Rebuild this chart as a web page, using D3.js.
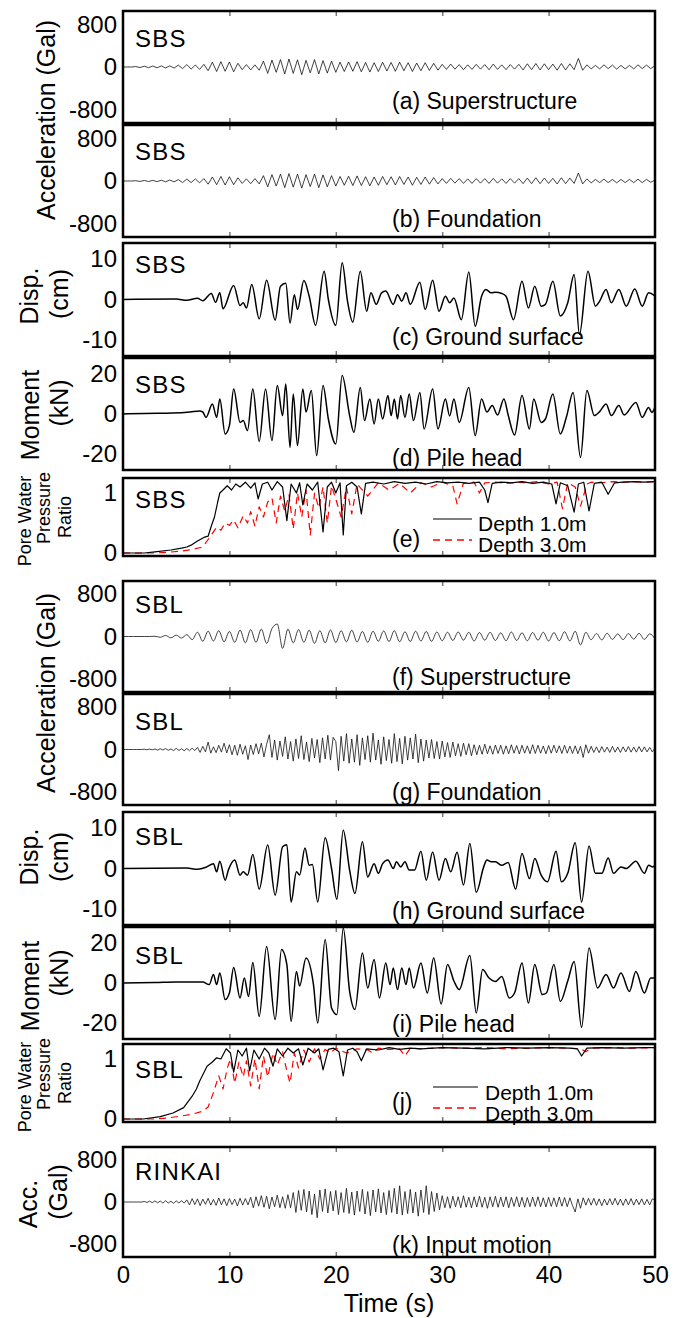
<!DOCTYPE html>
<html>
<head>
<meta charset="utf-8">
<script src="https://cdn.jsdelivr.net/npm/d3@7"></script>
<style>
  body { margin: 0; background: #fff; }
  svg { display: block; font-family: "Liberation Sans", Arial, sans-serif; }
</style>
</head>
<body>
<div id="chart"></div>
<script>
// ---- data ----
const timeTicks = [0, 10, 20, 30, 40, 50];
const innerTicks = [10, 20, 30, 40];
const accTicks = [-800, 0, 800];
const dispTicks = [-10, 0, 10];
const momTicks = [-20, 0, 20];
const poreTicks = [0, 1];

// SBS superstructure acceleration (Gal), sampled every 0.4 s
const sbsSuperAcc = [0,0,0,8,-10,15,-12,18,-15,20,-18,22,-20,35,-30,45,-40,38,-45,50,
  -70,90,-85,100,-80,95,-90,70,-50,45,-55,40,-60,110,-120,130,-100,140,-130,150,-120,135,-145,125,-110,140,-130,120,-115,110,
  -100,90,-85,95,-80,100,-90,85,-95,80,-85,90,-75,85,-80,90,-70,80,-85,75,-70,80,-65,70,-60,
  50,-45,55,-40,45,-50,40,-45,50,-40,45,-50,55,-45,40,-50,45,-40,50,
  -55,60,-50,65,-55,60,-50,55,-60,65,-55,60,-50,160,
  -60,40,-35,30,-35,40,-30,35,-40,30,-35,30,-35,40,-30,35,-30,25];
// SBS foundation acceleration (Gal), every 0.4 s
const sbsFoundAcc = [0,0,0,5,-8,10,-10,12,-12,15,-15,18,-15,25,-28,35,-30,40,-35,45,
  -60,75,-70,85,-75,80,-70,60,-45,40,-50,45,-55,100,-110,120,-95,130,-125,140,-115,130,-135,120,-105,130,-125,115,-110,100,
  -95,85,-80,90,-85,95,-85,80,-90,75,-80,85,-70,80,-75,85,-65,75,-80,70,-65,75,-60,65,-55,
  45,-45,50,-40,45,-45,40,-45,45,-40,45,-45,50,-40,40,-45,45,-40,45,
  -50,55,-50,60,-50,55,-45,50,-55,60,-50,55,-45,150,
  -55,40,-35,30,-30,35,-30,30,-35,30,-30,30,-30,35,-30,30,-25,20];

// SBS ground surface displacement (cm)
const sbsDispT = [0,5,6,7,7.5,8.3,8.7,9.1,9.4,10.4,11.0,11.3,11.6,12.1,12.8,13.5,14.3,14.8,15.3,15.7,
  16.1,16.4,17.0,17.5,18.1,18.9,19.3,20.0,20.6,21.1,21.6,22.3,22.9,23.3,23.8,24.3,24.7,25.4,25.8,26.2,
  26.6,27.0,27.9,28.4,29.1,29.7,30.3,30.7,31.1,31.8,32.5,33.1,33.7,34.1,34.6,35.0,35.6,36.0,36.7,37.5,
  38.1,38.7,39.3,39.7,40.4,41.1,41.8,42.4,42.9,43.7,44.4,44.8,45.4,45.9,46.6,47.3,48.1,48.8,49.4,50];
const sbsDispV = [0,0.1,-0.2,0.3,-0.3,1.5,-0.7,1.65,-2.3,3.5,-1.5,-0.8,-2.1,3.7,-4.8,4.8,-5.1,3.3,4.0,-5.8,
  1.2,-2.5,4.7,0.8,-6.4,7.0,0,-6.4,9.1,-0.4,-5.6,7.0,-2.9,1.65,-1.2,1.65,2.1,-1.2,1.2,-0.4,
  1.65,-1.2,4.3,-2.5,4.8,-2.9,0.8,-0.8,0.4,-5.0,6.8,-6.6,0.8,2.5,1.65,1.8,1.5,0.8,-5.0,4.5,
  -2.1,3.3,-1.65,-1.2,4.5,-4.1,-0.8,6.2,-8.7,7.0,-1.65,-0.4,2.5,-0.8,2.5,-1.65,2.6,-1.65,1.65,0.8];

// SBS pile head moment (kN)
const sbsMomT = [0,2,4.7,6.3,7.2,7.5,7.8,8.4,8.8,9.1,9.6,10.0,10.4,11.0,11.3,11.7,12.2,12.8,13.4,14.0,
  14.5,15.0,15.3,15.7,16.0,16.4,16.9,17.2,17.7,18.2,18.8,19.3,20.0,20.6,21.3,21.7,22.3,22.7,23.2,23.6,
  24.0,24.4,24.9,25.2,25.5,25.8,26.1,26.5,26.9,27.3,27.9,28.3,29.1,29.6,30.3,30.7,31.1,31.6,32.5,33.1,
  33.7,34.2,34.7,35.2,35.8,36.2,36.8,37.5,38.2,38.6,39.3,39.7,40.4,41.1,41.7,42.3,43.0,43.6,44.3,44.8,
  45.4,45.9,46.6,47.1,48.2,48.8,49.4,49.7,50];
const sbsMomV = [0,0.3,0.5,1.0,1.5,1.0,-1.7,5,-1.7,7.5,-10,-5.8,12.5,-4.2,-3.3,-8.3,12.5,-13.7,12.5,-13.3,
  14.2,-0.8,15,-16.7,10,-15.8,12.5,1,11.7,-20.8,14.2,-2.5,-15,19.2,-0.8,-9.2,13.3,-3.3,7.5,-5,
  7.5,-2.5,9.2,-0.8,7.5,-2.5,9.2,-1.7,10,-3.3,10.8,-7.5,12.5,-7.5,7.5,-1,7.5,-4.2,13.3,-10.8,
  7.5,1,4.2,-0.5,7.5,-0.5,-10.5,9.2,-7.5,7.5,-4.2,-2.5,10,-10,-1,10.8,-21.7,11.7,-0.8,1.2,
  5,-0.8,4.2,-0.5,5.8,-1.7,3.3,0.8,3.3];

// SBS pore water pressure ratio, depth 1.0 m and 3.0 m
const sbsPore1T = [0,2,3,4.5,5.5,6,6.5,7,7.6,8.0,8.3,8.6,8.9,9.1,9.4,9.8,10.2,10.6,11,11.5,
  12,12.4,12.7,13.1,13.6,14,14.5,15,15.4,15.8,16.3,16.6,16.9,17.3,17.8,18.3,18.8,19.2,19.6,20,
  20.4,20.7,21.0,21.5,22.0,22.4,22.8,23.5,24.5,25.5,26.5,27.5,28.5,29.5,30.5,31.5,32.5,33.5,34.0,34.3,
  34.7,35.5,36.5,37.5,38.5,39.5,40.3,40.7,41.1,41.8,42.4,42.8,43.3,43.8,44.3,45.0,45.6,46.2,47,48,49,50];
const sbsPore1V = [0,0,0.02,0.05,0.08,0.1,0.14,0.2,0.26,0.28,0.45,0.6,0.85,1.0,1.05,1.12,1.05,1.15,1.1,1.18,
  1.08,1.17,0.9,1.15,1.18,1.05,1.19,1.1,0.54,1.15,1.0,1.17,0.8,1.15,1.05,1.18,0.35,1.1,1.18,1.0,
  1.17,0.3,1.12,1.18,1.1,0.65,1.16,1.18,1.15,1.19,1.16,1.18,1.15,1.19,1.17,1.18,1.16,1.18,1.05,0.84,
  1.16,1.18,1.17,1.19,1.16,1.18,1.15,0.82,1.17,1.12,0.68,1.15,1.18,0.7,1.16,1.18,0.98,1.17,1.18,1.19,1.18,1.19];
const sbsPore3T = [0,3,4,5.5,6.5,7.5,8.3,8.8,9.2,9.6,10,10.4,10.8,11.3,11.7,12,12.4,12.8,13.2,13.6,
  14,14.4,14.8,15.2,15.6,16,16.4,16.8,17.2,17.6,18,18.4,18.8,19.2,19.6,20,20.5,21,21.5,22,
  23,24,25,26,27,28,29,30,31,31.4,32,33,33.5,34,35,36,37,38,39,40,
  40.8,41.3,41.8,42.5,43,43.6,44,45,46,47,48,49,50];
const sbsPore3V = [0,0,0.01,0.03,0.06,0.1,0.3,0.43,0.38,0.5,0.46,0.55,0.42,0.62,0.5,0.69,0.45,0.77,0.6,0.85,
  0.92,0.5,0.95,0.7,0.97,0.4,1.0,0.6,1.05,0.3,1.0,0.75,1.1,0.5,1.12,0.9,0.6,1.1,0.65,1.15,
  0.95,1.17,1.05,1.16,1.0,1.17,1.1,1.18,1.12,0.82,1.16,1.18,1.0,1.17,1.18,1.16,1.18,1.17,1.19,1.15,
  1.18,0.74,1.17,1.1,0.78,1.15,1.18,1.17,1.19,1.18,1.19,1.18,1.19];

// SBL superstructure acceleration (Gal), every 0.5 s
const sblSuperAcc = [0,0,0,0,0,0,5,-15,20,-25,25,-30,35,
  -60,80,-90,100,-85,110,-100,95,-110,120,-120,130,-110,140,-130,150,236,-225,
  140,-120,130,-110,120,-130,110,-120,125,-115,
  110,-100,120,-105,95,-110,100,-90,105,-95,110,-100,90,-95,100,-85,95,-90,85,-80,
  80,-75,85,-70,80,-85,75,-70,80,-75,70,-80,85,-75,70,-80,75,-70,80,-85,75,-80,90,-85,
  100,-160,80,-60,55,-65,60,-55,50,-60,55,-50,60,-55,50,-45];
// SBL foundation acceleration (Gal), every 0.25 s
const sblFoundAcc = [0,0,0,0,0,0,0,0,5,-5,8,-6,
  10,-12,15,-10,18,-15,12,-20,22,-18,15,-25,20,-22,25,-20,
  40,-55,60,-45,140,-70,50,-60,80,-50,120,-65,
  90,-100,80,-110,100,-90,70,-190,85,-95,110,-80,
  120,-140,100,280,
  -150,180,-200,160,-130,240,-180,150,-220,200,-170,260,-190,140,-230,210,-160,190,-250,220,-180,270,-200,230,
  150,-400,250,-220,300,-260,200,-240,280,-300,220,-190,260,-240,310,-200,180,-280,240,-210,190,-260,300,-230,210,-270,250,-200,220,-180,290,-250,
  200,-220,180,-160,190,-170,150,-180,160,-140,130,-150,140,-120,110,-130,120,-100,110,-120,
  90,-100,80,-90,100,-80,70,-90,85,-75,80,-90,70,-80,90,-70,75,-85,80,-70,70,-80,90,-75,80,-70,65,-80,75,-70,80,-65,70,-75,80,-70,65,-75,70,-80,
  60,-150,90,-70,
  60,-55,50,-60,55,-50,45,-55,60,-50,45,-55,50,-45,55,-50,45,-50,55,-45,50,-45,40,-45,30];

// SBL ground surface displacement (cm)
const sblDispT = [0,6,7,7.8,8.5,8.8,9.1,9.6,9.9,10.5,11.0,11.3,11.7,12.2,12.8,13.6,14.3,15.0,15.4,15.8,
  16.3,16.6,17.1,17.5,17.8,18.3,19.0,19.6,20.1,20.7,21.3,21.8,22.5,23.0,23.6,24.0,24.4,24.9,25.4,25.7,
  26.1,26.5,26.9,27.4,28.0,28.5,29.1,29.7,30.3,30.8,31.4,32.0,32.6,33.2,33.9,34.2,34.6,35.0,35.6,36.2,
  36.9,37.5,38.2,38.7,39.3,39.9,40.7,41.2,41.8,42.5,43.1,43.8,44.4,45.0,45.6,46.1,46.8,47.3,48.2,49.0,
  49.4,49.8,50];
const sblDispV = [0,0.1,-0.2,0.3,1.2,-0.8,1.8,-2.9,-0.4,2.1,-1.65,-0.8,-1.65,3.5,-5.1,5.8,-6.6,5.4,5.9,-8.3,
  -0.8,-1.6,5.1,0.8,1.0,-8.3,7.6,0,-7.6,9.5,-0.4,-6.2,6.6,-2.1,1.2,-1.2,1.2,2.1,0,1.65,
  0.4,1.65,-0.4,-0.4,4.3,-2.9,4.1,-2.9,2.5,-0.8,4.0,-4.1,6.2,-5.9,0.4,2.1,1.65,1.65,0.8,1.5,
  -5.1,3.7,-2.5,2.5,-1.65,-3.3,4.3,-3.3,-1.2,6.4,-8.3,5.6,-1.2,-1.2,2.6,-1.2,0.4,0,1.8,-1.2,
  0.8,0.4,0.8];

// SBL pile head moment (kN)
const sblMomT = [0,3,5,7.5,8.1,8.5,8.8,9.1,9.6,10.0,10.4,11.0,11.4,11.8,12.2,12.8,13.5,14.3,14.9,15.4,
  15.8,16.3,16.6,17.2,17.9,18.3,19.0,19.6,20.1,20.7,21.3,21.8,22.5,23.0,23.6,24.1,24.7,25.1,25.4,25.8,
  26.2,26.6,26.9,27.3,28.0,28.6,29.2,29.9,30.5,31.1,31.6,32.6,33.2,33.8,34.4,35.0,35.6,36.3,36.8,37.5,
  38.1,38.7,39.4,39.8,40.5,41.1,41.8,42.4,43.1,43.8,44.6,45.4,46.1,46.8,47.6,48.2,49.0,49.6,50];
const sblMomV = [0,0.2,0.5,0.5,-0.8,4.2,-0.8,5,-8.3,-5,7.8,-7.5,2.5,-6.7,10.3,-16.7,18.3,-18.3,16.7,9.2,
  -19.2,5.8,-1.5,12.5,-0.8,-20,21.7,-12.5,-15.8,27.5,-4.2,-13.3,15,-2.5,11.7,-7.5,10,-0.8,7.5,-3.3,
  7.5,-0.8,7.5,-2.5,10,-5,12.5,-10.5,9.2,1,-3.3,13.8,-15,6.7,2.5,0.8,3.3,-7.5,-5,10,
  -10,9.2,-5.8,-5,9.2,-9.2,1,10.8,-22.2,17.5,-2.5,4.2,-2.5,5,-4.2,5.8,-5,2.5,2.5];

// SBL pore water pressure ratio
const sblPore1T = [0,1.9,3.5,4.7,5.7,6.5,6.9,7.2,7.9,8.4,8.8,9.2,9.7,10.1,10.4,10.8,11.2,11.6,11.9,12.3,
  12.8,13.3,13.7,14.1,14.5,15,15.5,16,16.5,16.9,17.4,18,18.4,18.8,19.3,19.8,20.3,20.7,21.1,21.6,
  22,22.4,22.9,24,25,26,27,28,30,32,34,36,38,40,42,42.7,43.1,43.6,45,47,49,50];
const sblPore1V = [0,0,0.04,0.1,0.19,0.38,0.5,0.63,0.88,0.95,1.02,1.0,1.17,1.1,0.78,1.15,1.05,1.18,0.8,1.15,
  1.0,1.18,1.1,0.88,1.17,1.05,1.18,1.1,1.17,0.9,1.18,1.1,1.17,0.82,1.16,1.18,1.12,0.72,1.15,1.18,
  1.12,0.97,1.17,1.15,1.19,1.16,1.18,1.17,1.19,1.18,1.17,1.19,1.18,1.19,1.18,1.17,1.05,1.18,1.19,1.18,1.19,1.19];
const sblPore3T = [0,3,4.3,5.5,6.5,7.5,8.0,8.5,9.0,9.4,9.8,10.1,10.5,10.9,11.3,11.6,12,12.4,12.8,13.2,
  13.6,14.1,14.5,15,15.4,15.7,16.1,16.5,17,17.5,18,18.5,19,19.5,20,21,22,23,23.5,24,
  25,26,26.5,27,28,30,32,34,36,38,40,42,43,43.5,44,46,48,50];
const sblPore3V = [0,0,0.02,0.05,0.08,0.13,0.2,0.44,0.72,0.5,0.85,1.0,0.6,0.95,0.7,0.97,0.55,1.0,0.5,1.05,
  0.7,1.1,0.9,1.12,0.8,0.6,1.1,0.85,1.15,0.95,1.17,1.0,1.16,1.1,1.18,1.1,1.17,1.15,1.1,1.18,
  1.16,1.17,1.05,1.18,1.17,1.19,1.18,1.19,1.17,1.18,1.19,1.18,1.17,1.12,1.18,1.19,1.18,1.19];

// RINKAI input acceleration (Gal), every 0.25 s
const rinkaiAcc = [0,0,0,0,0,0,0,0,
  10,-8,15,-12,20,-15,18,-22,25,-20,15,-25,22,-18,25,-20,
  40,-55,65,-50,60,-70,55,-45,70,-60,50,-65,75,-55,60,-70,65,-50,55,-75,70,-60,65,-55,
  90,-110,100,-80,120,-100,110,-130,95,-90,130,-110,100,-120,140,-110,
  180,-200,220,-160,240,-190,210,-240,150,-300,230,-180,250,-210,200,-170,
  220,-240,180,-200,260,-220,190,-250,210,-180,240,-230,200,-260,230,-190,250,-210,180,-240,
  220,-200,260,-230,310,-250,200,-220,240,-210,190,-270,230,-200,310,-240,200,-180,170,-150,
  120,-110,100,-120,110,-90,100,-110,120,-100,90,-110,100,-95,110,-100,90,-120,100,-90,
  110,-100,95,-90,100,-110,90,-85,100,-95,90,-100,85,-90,95,-85,100,-90,80,-95,
  90,-85,80,-90,95,-80,85,-90,80,-70,
  -190,60,-120,80,-60,70,
  -60,70,-65,60,-70,55,-60,65,-55,70,-60,55,-65,60,-55,65,-60,55,-50,60,-55,50,-55,60,40];

// ---- layout ----
const W = 678, H = 1318;
const left = 123, right = 655;
const font = '"Liberation Sans", Arial, sans-serif';

const svg = d3.select("#chart").append("svg")
    .attr("width", W)
    .attr("height", H);

const x = d3.scaleLinear().domain([0, 50]).range([left, right]);

// turn the arrays into [time, value] points
const stepPts = (vals, step) => vals.map((v, i) => [i * step, v]);
const zipPts = (ts, vs) => ts.map((t, i) => [t, vs[i]]);

const accLine = { w: 0.8, color: "#111", curve: d3.curveMonotoneX };
const spikyLine = { w: 0.8, color: "#111", curve: d3.curveLinear };
const waveLine = { w: 1.5, color: "#000", curve: d3.curveMonotoneX };
const poreBlack = { w: 1.2, color: "#000", curve: d3.curveLinear };
const poreRed = { w: 1.2, color: "#ff0000", curve: d3.curveLinear, dash: "7,5" };

const panels = [
  { top: 11, bottom: 123, dom: [-1050, 1050], ticks: accTicks, name: "SBS", nameDy: 36, cap: "(a) Superstructure", capDy: 14,
    series: [{ pts: stepPts(sbsSuperAcc, 0.4), ...spikyLine }] },
  { top: 125, bottom: 237, dom: [-1050, 1050], ticks: accTicks, name: "SBS", nameDy: 35, cap: "(b) Foundation", capDy: 10,
    series: [{ pts: stepPts(sbsFoundAcc, 0.4), ...spikyLine }] },
  { top: 243, bottom: 356, dom: [-14, 14], ticks: dispTicks, name: "SBS", nameDy: 30, cap: "(c) Ground surface", capDy: 11,
    series: [{ pts: zipPts(sbsDispT, sbsDispV), ...waveLine }] },
  { top: 358, bottom: 470, dom: [-28, 28], ticks: momTicks, name: "SBS", nameDy: 35, cap: "(d) Pile head", capDy: 4,
    series: [{ pts: zipPts(sbsMomT, sbsMomV), ...waveLine }] },
  { top: 478, bottom: 556, dom: [-0.05, 1.25], ticks: poreTicks, name: "SBS", nameDy: 30, cap: "(e)", capDy: 9,
    legend: { x1: 433, x2: 472, tx: 478, y1: 519, y2: 540, b1: 531, b2: 552 },
    series: [{ pts: zipPts(sbsPore3T, sbsPore3V), ...poreRed }, { pts: zipPts(sbsPore1T, sbsPore1V), ...poreBlack }] },
  { top: 581, bottom: 692, dom: [-1050, 1050], ticks: accTicks, name: "SBL", nameDy: 32, cap: "(f) Superstructure", capDy: 7,
    series: [{ pts: stepPts(sblSuperAcc, 0.5), ...accLine }] },
  { top: 694, bottom: 805, dom: [-1050, 1050], ticks: accTicks, name: "SBL", nameDy: 36, cap: "(g) Foundation", capDy: 5,
    series: [{ pts: stepPts(sblFoundAcc, 0.25), ...spikyLine }] },
  { top: 812, bottom: 925, dom: [-14, 14], ticks: dispTicks, name: "SBL", nameDy: 33, cap: "(h) Ground surface", capDy: 6,
    series: [{ pts: zipPts(sblDispT, sblDispV), ...waveLine }] },
  { top: 927, bottom: 1039, dom: [-28, 28], ticks: momTicks, name: "SBL", nameDy: 37, cap: "(i) Pile head", capDy: 7,
    series: [{ pts: zipPts(sblMomT, sblMomV), ...waveLine }] },
  { top: 1044, bottom: 1122, dom: [-0.05, 1.25], ticks: poreTicks, name: "SBL", nameDy: 34, cap: "(j)", capDy: 12,
    legend: { x1: 433, x2: 478, tx: 485, y1: 1087, y2: 1108, b1: 1100, b2: 1121 },
    series: [{ pts: zipPts(sblPore3T, sblPore3V), ...poreRed }, { pts: zipPts(sblPore1T, sblPore1V), ...poreBlack }] },
  { top: 1147, bottom: 1257, dom: [-1050, 1050], ticks: accTicks, name: "RINKAI", nameDy: 33, cap: "(k) Input motion", capDy: 4,
    series: [{ pts: stepPts(rinkaiAcc, 0.25), ...spikyLine }] }
];

// plain hyphen minus, no decimals, like the original figure
const plainFmt = d => String(d);

panels.forEach((p, idx) => {
  const y = d3.scaleLinear().domain(p.dom).range([p.bottom, p.top]);
  const g = svg.append("g");

  g.append("clipPath").attr("id", "clip" + idx)
    .append("rect")
    .attr("x", left).attr("y", p.top)
    .attr("width", right - left).attr("height", p.bottom - p.top);

  // small grey ticks inside the frame, top and bottom
  const tb = g.append("g").attr("transform", `translate(0,${p.bottom})`)
    .call(d3.axisBottom(x).tickValues(innerTicks).tickSize(-5).tickFormat(""));
  const tt = g.append("g").attr("transform", `translate(0,${p.top})`)
    .call(d3.axisTop(x).tickValues(innerTicks).tickSize(-5).tickFormat(""));
  [tb, tt].forEach(s => {
    s.select(".domain").remove();
    s.selectAll("line").attr("stroke", "#777").attr("stroke-width", 1.5);
  });

  const line = d3.line().x(d => x(d[0])).y(d => y(d[1]));
  p.series.forEach(s => {
    g.append("path")
      .attr("clip-path", `url(#clip${idx})`)
      .attr("d", line.curve(s.curve)(s.pts))
      .attr("fill", "none")
      .attr("stroke", s.color)
      .attr("stroke-width", s.w)
      .attr("stroke-dasharray", s.dash || null)
      .attr("stroke-linejoin", "round");
  });

  g.append("rect")
    .attr("x", left).attr("y", p.top)
    .attr("width", right - left).attr("height", p.bottom - p.top)
    .attr("fill", "none").attr("stroke", "#000").attr("stroke-width", 2.5);

  const ya = g.append("g").attr("transform", `translate(${left},0)`)
    .call(d3.axisLeft(y).tickValues(p.ticks).tickFormat(plainFmt).tickSize(0).tickPadding(6));
  ya.select(".domain").remove();
  ya.attr("font-family", font).attr("font-size", 24);
  ya.selectAll("text").attr("fill", "#000");

  g.append("text")
    .attr("x", 135).attr("y", p.top + p.nameDy)
    .attr("font-family", font).attr("font-size", 24)
    .attr("letter-spacing", 1.2)
    .text(p.name);

  g.append("text")
    .attr("x", 392).attr("y", p.bottom - p.capDy)
    .attr("font-family", font).attr("font-size", 23)
    .text(p.cap);

  if (p.legend) {
    const L = p.legend;
    g.append("line").attr("x1", L.x1).attr("x2", L.x2).attr("y1", L.y1).attr("y2", L.y1)
      .attr("stroke", "#000").attr("stroke-width", 1.2);
    g.append("line").attr("x1", L.x1).attr("x2", L.x2).attr("y1", L.y2).attr("y2", L.y2)
      .attr("stroke", "#ff0000").attr("stroke-width", 1.5).attr("stroke-dasharray", "7,5");
    g.append("text").attr("x", L.tx).attr("y", L.b1)
      .attr("font-family", font).attr("font-size", 21).text("Depth 1.0m");
    g.append("text").attr("x", L.tx).attr("y", L.b2)
      .attr("font-family", font).attr("font-size", 21).text("Depth 3.0m");
  }
});

// time axis under the last panel
const xa = svg.append("g").attr("transform", "translate(0,1257)")
  .call(d3.axisBottom(x).tickValues(timeTicks).tickFormat(plainFmt).tickSize(0).tickPadding(9));
xa.select(".domain").remove();
xa.attr("font-family", font).attr("font-size", 24);
xa.selectAll("text").attr("fill", "#000");

svg.append("text")
  .attr("x", (left + right) / 2).attr("y", 1312)
  .attr("text-anchor", "middle")
  .attr("font-family", font).attr("font-size", 25)
  .text("Time (s)");

// rotated y titles
const yTitles = [
  { text: "Acceleration (Gal)", x: 46, y: 120, size: 25 },
  { text: "Disp.", x: 29, y: 296, size: 25 },
  { text: "(cm)", x: 59, y: 294, size: 25 },
  { text: "Moment", x: 30, y: 415, size: 25 },
  { text: "(kN)", x: 59, y: 403, size: 25 },
  { text: "Pore Water", x: 25, y: 521, size: 18 },
  { text: "Pressure", x: 44, y: 508, size: 18 },
  { text: "Ratio", x: 65, y: 517, size: 18 },
  { text: "Acceleration (Gal)", x: 46, y: 693, size: 25 },
  { text: "Disp.", x: 29, y: 857, size: 25 },
  { text: "(cm)", x: 59, y: 857, size: 25 },
  { text: "Moment", x: 30, y: 986, size: 25 },
  { text: "(kN)", x: 59, y: 973, size: 25 },
  { text: "Pore Water", x: 25, y: 1087, size: 18 },
  { text: "Pressure", x: 44, y: 1074, size: 18 },
  { text: "Ratio", x: 65, y: 1083, size: 18 },
  { text: "Acc.", x: 28, y: 1204, size: 25 },
  { text: "(Gal)", x: 58, y: 1192, size: 25 }
];

svg.selectAll("text.ytitle")
  .data(yTitles)
  .enter()
  .append("text")
  .attr("class", "ytitle")
  .attr("transform", d => `translate(${d.x},${d.y}) rotate(-90)`)
  .attr("text-anchor", "middle")
  .attr("dominant-baseline", "central")
  .attr("font-family", font)
  .attr("font-size", d => d.size)
  .text(d => d.text);
</script>
</body>
</html>
